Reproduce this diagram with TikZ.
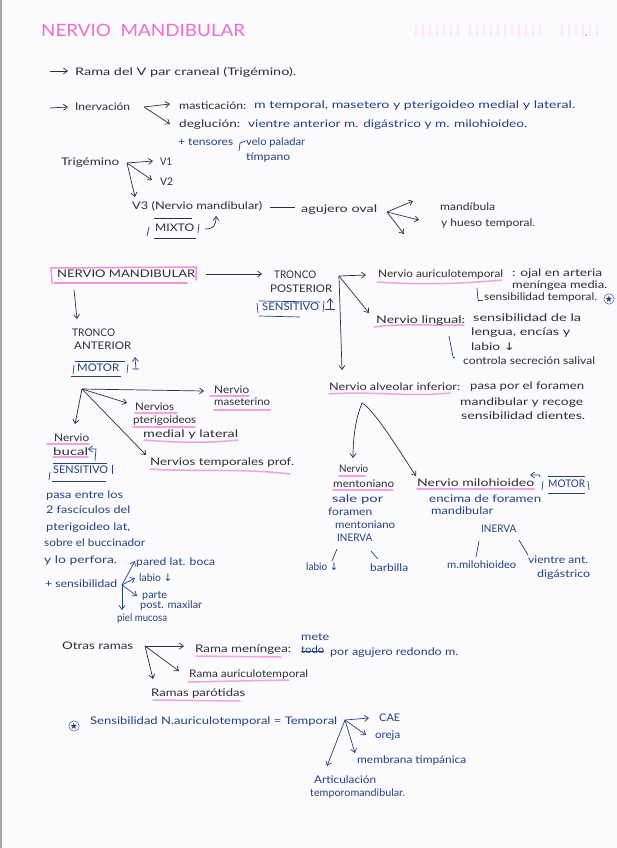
\documentclass[tikz,border=0pt]{standalone}
\usepackage{fontspec}
\usepackage{graphicx}
\setmainfont{Lato}
\newfontfamily\symf{DejaVu Sans}
\usetikzlibrary{arrows.meta}
\definecolor{ink}{HTML}{2E2E33}
\definecolor{navy}{HTML}{24407F}
\definecolor{pinkline}{HTML}{F3A0E6}
\definecolor{titlepink}{HTML}{F06CD2}
\definecolor{paper}{HTML}{FBFBFE}
\definecolor{ghost}{HTML}{FAEAF6}
\tikzset{
  lbl/.style={inner sep=0pt,anchor=west,text height=7.5pt,text depth=2pt,font=\fontsize{10.5}{12}\selectfont},
  tk/.style={lbl,text=ink},
  tn/.style={lbl,text=navy},
  arr/.style={draw=ink,line width=.7pt,-{Straight Barb[length=4pt,width=6pt]}},
  arrn/.style={draw=navy,line width=.7pt,-{Straight Barb[length=4pt,width=6pt]}},
  linek/.style={draw=ink,line width=.7pt},
  linen/.style={draw=navy,line width=.7pt},
  pk/.style={draw=pinkline,line width=1.5pt,line cap=round},
  starc/.style={draw=navy,circle,inner sep=0pt,minimum size=10pt,text=navy,font=\fontsize{9}{9}\selectfont}
}
\newcommand{\Tk}[5]{\node[tk] (#1) at (#2,#3) {\resizebox{#4pt}{\height}{#5}};}
\newcommand{\Tn}[5]{\node[tn] (#1) at (#2,#3) {\resizebox{#4pt}{\height}{#5}};}
\newcommand{\Ar}[5]{\coordinate (#1a) at (#2,#3); \coordinate (#1b) at (#4,#5); \draw[arr] (#1a) -- (#1b);}
\newcommand{\An}[5]{\coordinate (#1a) at (#2,#3); \coordinate (#1b) at (#4,#5); \draw[arrn] (#1a) -- (#1b);}
\newcommand{\Ln}[5]{\coordinate (#1a) at (#2,#3); \coordinate (#1b) at (#4,#5); \draw[linen] (#1a) -- (#1b);}
\newcommand{\Lk}[5]{\coordinate (#1a) at (#2,#3); \coordinate (#1b) at (#4,#5); \draw[linek] (#1a) -- (#1b);}
\begin{document}
\begin{tikzpicture}[x=1pt,y=-1pt]
\useasboundingbox (0,0) rectangle (617,848);
\fill[paper] (0,0) rectangle (617,848);
\fill[black!35] (0,0) rectangle (1.5,848);
% faint show-through of the back of the sheet
\foreach \gx in {416,423,430,437,444,451,458,470,477,484,491,498,505,512,519,526,533,540,562,569,576,583,590,597}
  \draw[ghost,line width=2.5pt] (\gx,25) -- (\gx,36);
\fill[ink] (586,35) circle (.7);
% ---- title
\node[inner sep=0pt,anchor=west,text=titlepink,font=\fontsize{17}{18}\selectfont] (title) at (41,30) {\resizebox{204pt}{\height}{NERVIO\ \ MANDIBULAR}};
% ---- top block
\Ar{a1}{50}{71}{68}{71}
\Tk{t1}{75}{73}{221}{Rama del V par craneal (Trigémino).}
\Ar{a2}{50}{108}{68}{107}
\Tk{t2}{75}{108}{55}{Inervación}
\coordinate (h1) at (144,107);
\coordinate (h1a) at (170,104); \coordinate (h1b) at (170,124);
\draw[arr] (h1) -- (h1a); \draw[arr] (h1) -- (h1b);
\Tk{t3}{179}{107}{67}{masticación:}
\Tn{t4}{254}{106}{321}{m temporal, masetero y pterigoideo medial y lateral.}
\Tk{t5}{179}{125}{61}{deglución:}
\Tn{t6}{248}{125}{279}{vientre anterior m. digástrico y m. milohioideo.}
\Tn{t7}{178}{143}{55}{+ tensores}
\Ln{b1}{239}{151}{240}{143}
\Ln{b2}{240}{143}{246}{141}
\Tn{t8}{246}{143}{59}{velo paladar}
\Tn{t9}{246}{158}{44}{tímpano}
\Tk{t10}{61}{163}{58}{Trigémino}
\coordinate (h2) at (127,163);
\coordinate (h2a) at (153,161); \coordinate (h2b) at (152,180); \coordinate (h2c) at (135,197);
\draw[arr] (h2) -- (h2a); \draw[arr] (h2) -- (h2b); \draw[arr] (h2) -- (h2c);
\Tk{t11}{160}{163}{12}{V1}
\Tk{t12}{160}{183}{13}{V2}
\Tk{t13}{132}{207}{130}{V3 (Nervio mandibular)}
\draw[linek] (t13.east) ++(8,0) coordinate (d1) -- ++(25,0) coordinate (d2);
\Tk{t14}{301}{210}{76}{agujero oval}
\coordinate (h3) at (387,212);
\coordinate (h3a) at (413,201); \coordinate (h3b) at (419,220); \coordinate (h3c) at (404,234);
\draw[arr] (h3) -- (h3a); \draw[arr] (h3) -- (h3b); \draw[arr] (h3) -- (h3c);
\Tk{t15}{440}{208}{55}{mandíbula}
\Tk{t16}{441}{224}{94}{y hueso temporal.}
\Tk{t17}{155}{229}{39}{MIXTO}
\draw[linek] (154,218) -- (192,218); \draw[linek] (154,238) -- (196,238);
\draw[linek] (147,236) -- (149,227); \draw[linek] (198,233) -- (199,224);
\coordinate (m1) at (205,229); \coordinate (m2) at (216,216);
\draw[arr] (m1) .. controls (214,229) and (216,225) .. (m2);
% ---- main box
\draw[pk,draw=titlepink!75] (52,283) -- (51,268) -- (196,267) -- (196,280);
\draw[pk,draw=titlepink!75] (54,283) -- (187,283);
\Tk{t18}{57}{275}{138}{NERVIO MANDIBULAR}
\Ar{a3}{206}{274}{262}{274}
\Ar{a4}{74}{290}{77}{319}
\Tk{t19}{274}{276}{42}{TRONCO}
\Tk{t20}{270}{290}{62}{POSTERIOR}
\Tn{t21}{262}{308}{57}{SENSITIVO}
\draw[linen] (258,313) -- (257,303); \draw[linen] (259,301) -- (320,302);
\draw[linen] (259,316) -- (300,317); \draw[linen] (323,312) -- (324,301);
\An{a5}{330}{309}{330}{298}
\Ln{a6}{325}{309}{335}{309}
\Tk{t22}{72}{334}{43}{TRONCO}
\Tk{t23}{74}{347}{57}{ANTERIOR}
\Tn{t24}{77}{369}{42}{MOTOR}
\draw[linen] (75,361) -- (125,361); \draw[linen] (71,376) -- (121,376);
\draw[linen] (73,374) -- (74,365); \draw[linen] (127,373) -- (128,364);
\coordinate (m3) at (132,369); \coordinate (m4) at (135,357);
\draw[arrn] (m3) -- (139,369) -- (136,369) -- (m4);
% ---- anterior trunk
\coordinate (h4) at (82,389);
\coordinate (h4a) at (204,391); \coordinate (h4b) at (127,403); \coordinate (h4c) at (75,424); \coordinate (h4d) at (146,455);
\draw[arr] (h4) -- (h4a); \draw[arr] (h4) -- (h4b); \draw[arr] (h4) -- (h4c); \draw[arr] (h4) -- (h4d);
\draw[pk] (210,396) -- (249,396); \draw[pk] (214,410) -- (270,410);
\draw[pk] (135,413) -- (177,413); \draw[pk] (133,427) -- (195,427); \draw[pk] (144,440) .. controls (180,443) and (210,443) .. (238,440);
\draw[pk] (150,469) .. controls (190,472) and (240,468) .. (290,474);
\draw[pk] (47,444) -- (89,444); \draw[pk] (53,457) -- (88,457);
\Tk{t25}{214}{391}{35}{Nervio}
\Tk{t26}{214}{403}{56}{maseterino}
\Tk{t27}{135}{408}{39}{Nervios}
\Tk{t28}{133}{421}{63}{pterigoideos}
\Tk{t29}{143}{435}{95}{medial y lateral}
\Tk{t30}{150}{463}{144}{Nervios temporales prof.}
\Tk{t31}{54}{439}{35}{Nervio}
\Tk{t32}{53}{453}{35}{bucal}
\coordinate (m5) at (95,461); \coordinate (m6) at (88,449);
\draw[arrn] (m5) -- (96,449) -- (m6);
\Tn{t33}{53}{471}{55}{SENSITIVO}
\draw[linen] (53,463) -- (107,463); \draw[linen] (52,481) -- (106,481);
\draw[linen] (49,480) -- (50,472); \draw[linen] (112,474) -- (112,465);
\Tn{t34}{46}{496}{77}{pasa entre los}
\Tn{t35}{46}{511}{84}{2 fascículos del}
\Tn{t36}{46}{528}{84}{pterigoideo lat,}
\Tn{t37}{44}{544}{101}{sobre el buccinador}
\Tn{t38}{44}{561}{73}{y lo perfora.}
\Tn{t39}{45}{585}{72}{+ sensibilidad}
\coordinate (h5) at (122,585);
\coordinate (h5a) at (135,561); \coordinate (h5b) at (135,578); \coordinate (h5c) at (137,596); \coordinate (h5d) at (122,610);
\draw[arrn] (h5) -- (h5a); \draw[arrn] (h5) -- (h5b); \draw[arrn] (h5) -- (h5c); \draw[arrn] (h5) -- (h5d);
\Tn{t40}{136}{563}{79}{pared lat. boca}
\Tn{t41}{139}{579}{33}{labio {\symf ↓}}
\Tn{t42}{142}{596}{25}{parte}
\Tn{t43}{140}{606}{62}{post. maxilar}
\Tn{t44}{117}{619}{50}{piel mucosa}
% ---- posterior trunk
\coordinate (h6) at (339,276);
\coordinate (h6a) at (366,275); \coordinate (h6b) at (369,313); \coordinate (h6c) at (342,370);
\draw[arr] (h6) -- (h6a); \draw[arr] (h6) -- (h6b); \draw[arr] (h6) -- (h6c);
\draw[pk] (377,282) .. controls (420,285) and (460,284) .. (502,280);
\draw[pk] (374,327) .. controls (400,323) and (440,326) .. (464,325);
\draw[pk] (329,394) .. controls (370,391) and (410,397) .. (450,393);
\Tk{t45}{378}{275}{125}{Nervio auriculotemporal}
\Tk{t46}{512}{274}{90}{: ojal en arteria}
\Tk{t47}{512}{286}{95}{meníngea media.}
\Ln{b3}{477}{288}{478}{300}
\Ln{b4}{478}{300}{483}{300}
\Tk{t48}{484}{298}{113}{sensibilidad temporal.}
\node[starc] (s1) at (609,299) {\symf ★};
\Tk{t49}{376}{321}{89}{Nervio lingual:}
\Tk{t50}{473}{319}{108}{sensibilidad de la}
\Tk{t51}{471}{333}{99}{lengua, encías y}
\Tk{t52}{471}{348}{44}{labio {\symf ↓}}
\Ln{b5}{449}{336}{453}{357}
\Ln{b6}{453}{357}{455}{357}
\Tk{t53}{463}{362}{132}{controla secreción salival}
\Tk{t54}{329}{388}{131}{Nervio alveolar inferior:}
\Tk{t55}{470}{387}{114}{pasa por el foramen}
\Tk{t56}{460}{403}{123}{mandibular y recoge}
\Tk{t57}{461}{417}{124}{sensibilidad dientes.}
\coordinate (h7) at (362,403);
\coordinate (h7a) at (353,458); \coordinate (h7b) at (416,476);
\draw[arr] (h7) .. controls (355,420) and (353,440) .. (h7a);
\draw[arr] (h7) .. controls (375,410) and (405,460) .. (h7b);
\draw[pk] (339,476) -- (365,476); \draw[pk] (333,490) -- (393,490); \draw[pk] (417,489) -- (534,489);
\Tk{t58}{339}{470}{29}{Nervio}
\Tk{t59}{333}{485}{61}{mentoniano}
\Tk{t60}{417}{484}{117}{Nervio milohioideo}
\Tn{t61}{332}{500}{51}{sale por}
\Tn{t62}{328}{513}{44}{foramen}
\Tn{t63}{335}{526}{60}{mentoniano}
\Tn{t64}{337}{539}{35}{INERVA}
\Ln{l1}{337}{549}{332}{561}
\Ln{l2}{371}{551}{378}{559}
\Tn{t65}{306}{568}{32}{labio {\symf ↓}}
\Tn{t66}{370}{569}{38}{barbilla}
\Tn{t67}{548}{485}{37}{MOTOR}
\draw[linen] (548,476) -- (585,476); \draw[linen] (548,493) -- (585,493);
\draw[linen] (542,490) -- (543,481); \draw[linen] (589,490) -- (588,481);
\coordinate (m7) at (540,477); \coordinate (m8) at (530,475);
\draw[arrn] (m7) -- (539,475) -- (m8);
\Tn{t68}{429}{500}{112}{encima de foramen}
\Tn{t69}{431}{512}{62}{mandibular}
\Tn{t70}{481}{530}{35}{INERVA}
\Ln{l3}{479}{541}{476}{557}
\Ln{l4}{519}{540}{528}{555}
\Tn{t71}{447}{566}{69}{m.milohioideo}
\Tn{t72}{528}{561}{60}{vientre ant.}
\Tn{t73}{537}{575}{53}{digástrico}
% ---- other branches
\Tk{t74}{62}{647}{71}{Otras ramas}
\coordinate (h8) at (145,646);
\coordinate (h8a) at (184,646); \coordinate (h8b) at (179,671); \coordinate (h8c) at (153,679);
\draw[arr] (h8) -- (h8a); \draw[arr] (h8) -- (h8b); \draw[arr] (h8) -- (h8c);
\draw[pk] (196,656) -- (281,657); \draw[pk] (188,682) -- (289,680); \draw[pk] (153,700) -- (240,701);
\Tk{t75}{195}{650}{96}{Rama meníngea:}
\Tn{t76}{301}{638}{28}{mete}
\Tn{t77}{301}{651}{23}{todo}
\draw[linen,line width=1pt] (t77.west) -- (t77.east);
\Tn{t78}{330}{653}{128}{por agujero redondo m.}
\Tk{t79}{189}{675}{119}{Rama auriculotemporal}
\Tk{t80}{151}{694}{94}{Ramas parótidas}
\node[starc] (s2) at (74,726) {\symf ★};
\Tn{t81}{90}{722}{247}{Sensibilidad N.auriculotemporal = Temporal}
\coordinate (h9) at (345,720);
\coordinate (h9a) at (369,718); \coordinate (h9b) at (366,735); \coordinate (h9c) at (355,753); \coordinate (h9d) at (327,766);
\draw[arrn] (h9) -- (h9a); \draw[arrn] (h9) -- (h9b); \draw[arrn] (h9) -- (h9c); \draw[arrn] (h9) -- (h9d);
\Tn{t82}{379}{719}{21}{CAE}
\Tn{t83}{375}{736}{25}{oreja}
\Tn{t84}{357}{761}{109}{membrana timpánica}
\Tn{t85}{314}{781}{62}{Articulación}
\Tn{t86}{310}{794}{95}{temporomandibular.}
\end{tikzpicture}
\end{document}
